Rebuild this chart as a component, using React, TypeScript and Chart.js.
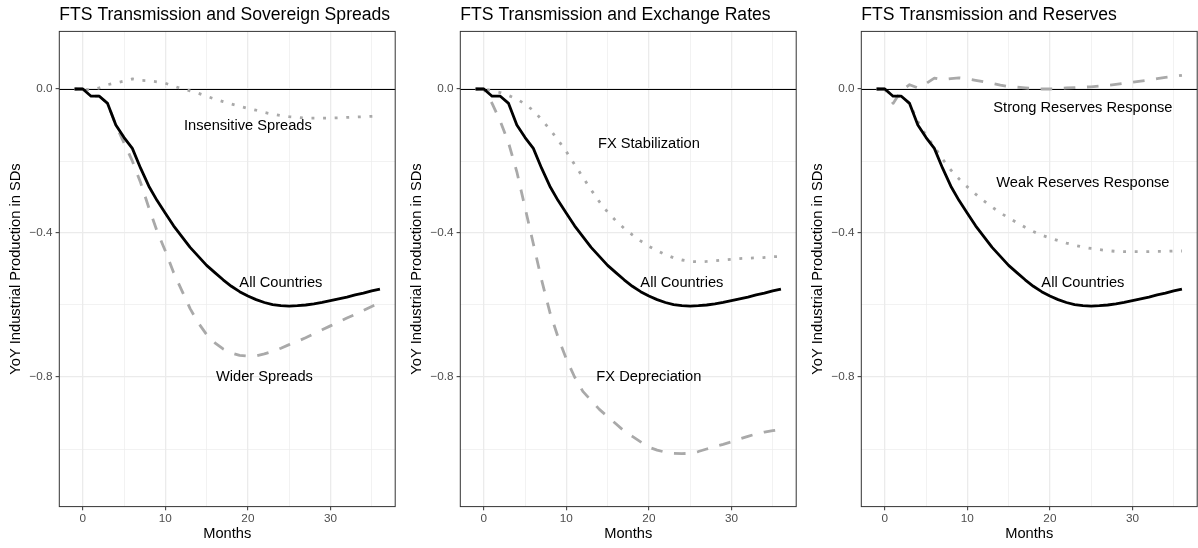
import { useEffect, useRef } from "react";
import { Chart, registerables } from "chart.js";

Chart.register(...registerables);

const FONT = '"Liberation Sans", Arial, Helvetica, sans-serif';

// Horizon in months after the shock
const months = [-1, 0, 1, 2, 3, 4, 5, 6, 7, 8, 9, 10, 11, 12, 13, 14, 15, 16, 17, 18, 19, 20, 21, 22, 23, 24, 25, 26, 27, 28, 29, 30, 31, 32, 33, 34, 35, 36];

// Impulse responses (YoY industrial production, in SDs)
const allCountries = [0, 0, -0.02, -0.02, -0.04, -0.1, -0.135, -0.165, -0.22, -0.27, -0.31, -0.345, -0.38, -0.41, -0.44, -0.465, -0.49, -0.51, -0.53, -0.548, -0.563, -0.575, -0.585, -0.593, -0.599, -0.602, -0.603, -0.602, -0.6, -0.597, -0.593, -0.588, -0.583, -0.578, -0.572, -0.567, -0.561, -0.556];
const widerSpreads = [0, 0, -0.02, -0.02, -0.04, -0.1, -0.15, -0.2, -0.26, -0.33, -0.395, -0.45, -0.51, -0.56, -0.61, -0.65, -0.682, -0.705, -0.722, -0.733, -0.74, -0.742, -0.741, -0.736, -0.729, -0.72, -0.71, -0.701, -0.691, -0.68, -0.669, -0.658, -0.647, -0.636, -0.626, -0.615, -0.604, -0.593];
const insensitiveSpreads = [0, 0, -0.003, 0.003, 0.012, 0.017, 0.022, 0.028, 0.024, 0.023, 0.02, 0.016, 0.008, 0.001, -0.005, -0.012, -0.02, -0.028, -0.035, -0.042, -0.048, -0.054, -0.059, -0.065, -0.07, -0.074, -0.077, -0.079, -0.081, -0.081, -0.081, -0.081, -0.08, -0.079, -0.078, -0.077, -0.076, -0.075];
const fxDepreciation = [0, 0, -0.04, -0.09, -0.15, -0.23, -0.33, -0.43, -0.53, -0.62, -0.69, -0.75, -0.8, -0.84, -0.865, -0.89, -0.91, -0.93, -0.95, -0.965, -0.98, -0.995, -1.003, -1.009, -1.012, -1.013, -1.012, -1.007, -1.0, -0.993, -0.987, -0.98, -0.972, -0.965, -0.958, -0.953, -0.949, -0.946];
const fxStabilization = [0, 0, -0.005, -0.01, -0.018, -0.028, -0.042, -0.06, -0.085, -0.112, -0.142, -0.174, -0.21, -0.245, -0.28, -0.313, -0.342, -0.366, -0.387, -0.405, -0.422, -0.437, -0.449, -0.46, -0.469, -0.475, -0.479, -0.48, -0.479, -0.477, -0.475, -0.473, -0.471, -0.47, -0.469, -0.468, -0.466, -0.465];
const strongReserves = [0, 0, -0.04, -0.005, 0.012, 0.003, 0.015, 0.03, 0.026, 0.029, 0.031, 0.028, 0.024, 0.02, 0.016, 0.011, 0.007, 0.005, 0.003, 0.001, 0, 0, 0.001, 0.003, 0.004, 0.005, 0.006, 0.008, 0.01, 0.013, 0.016, 0.019, 0.022, 0.025, 0.029, 0.032, 0.035, 0.038];
const weakReserves = [0, 0, -0.02, -0.02, -0.04, -0.09, -0.13, -0.16, -0.195, -0.225, -0.25, -0.272, -0.292, -0.311, -0.328, -0.344, -0.358, -0.371, -0.384, -0.396, -0.406, -0.414, -0.421, -0.428, -0.434, -0.439, -0.443, -0.446, -0.449, -0.451, -0.452, -0.452, -0.452, -0.452, -0.451, -0.451, -0.45, -0.45];

// Axis ticks (major ticks carry a label, minor ones only a grid line)
const xTicks = [0, 5, 10, 15, 20, 25, 30, 35];
const xTickLabels = ["0", "", "10", "", "20", "", "30", ""];
const yTicks = [-1.0, -0.8, -0.6, -0.4, -0.2, 0];
const yTickLabels = ["", "\u22120.8", "", "\u22120.4", "", "0.0"];

const X_MIN = -2.85;
const X_MAX = 37.85;
const Y_MIN = -1.16;
const Y_MAX = 0.16;

type LineStyle = "solid" | "dashed" | "dotted";
type Series = { values: number[]; style: LineStyle };
type Note = { text: string; month: number; value: number };
type PanelCfg = { title: string; series: Series[]; notes: Note[] };

const panels: PanelCfg[] = [
  {
    title: "FTS Transmission and Sovereign Spreads",
    series: [
      { values: allCountries, style: "solid" },
      { values: widerSpreads, style: "dashed" },
      { values: insensitiveSpreads, style: "dotted" },
    ],
    notes: [
      { text: "Insensitive Spreads", month: 20, value: -0.104 },
      { text: "All Countries", month: 24, value: -0.54 },
      { text: "Wider Spreads", month: 22, value: -0.8 },
    ],
  },
  {
    title: "FTS Transmission and Exchange Rates",
    series: [
      { values: allCountries, style: "solid" },
      { values: fxDepreciation, style: "dashed" },
      { values: fxStabilization, style: "dotted" },
    ],
    notes: [
      { text: "FX Stabilization", month: 20, value: -0.153 },
      { text: "All Countries", month: 24, value: -0.54 },
      { text: "FX Depreciation", month: 20, value: -0.8 },
    ],
  },
  {
    title: "FTS Transmission and Reserves",
    series: [
      { values: allCountries, style: "solid" },
      { values: strongReserves, style: "dashed" },
      { values: weakReserves, style: "dotted" },
    ],
    notes: [
      { text: "Strong Reserves Response", month: 24, value: -0.054 },
      { text: "Weak Reserves Response", month: 24, value: -0.262 },
      { text: "All Countries", month: 24, value: -0.54 },
    ],
  },
];

const CANVAS_W = 396;
const CANVAS_H = 548;
const PANEL_LEFTS = [0, 401, 802];
const PLOT_LEFT = 59.3;
const PLOT_RIGHT = 395.2;
const PLOT_TOP = 31.4;
const PLOT_BOTTOM = 506.6;

const LINE_W = 2.8;
const GREY = "#a9a9a9";

function dashFor(style: LineStyle): number[] {
  if (style === "dashed") return [11.6, 11.6];
  if (style === "dotted") return [2.9, 8.7];
  return [];
}

function labelFor(ticks: number[], labels: string[], v: number): string {
  const i = ticks.findIndex((t) => Math.abs(t - v) < 1e-9);
  return i >= 0 ? labels[i] : "";
}

const panelDecor = {
  id: "panelDecor",
  beforeDatasetsDraw(chart: any) {
    const { ctx, chartArea, scales } = chart;
    // zero reference line, snapped to the pixel grid so it stays crisp
    const y0 = Math.floor(scales.y.getPixelForValue(0)) + 0.5;
    ctx.save();
    ctx.strokeStyle = "#000";
    ctx.lineWidth = 1;
    ctx.beginPath();
    ctx.moveTo(chartArea.left, y0);
    ctx.lineTo(chartArea.right, y0);
    ctx.stroke();
    ctx.restore();
  },
  afterDatasetsDraw(chart: any, _args: any, opts: any) {
    const { ctx, chartArea, scales } = chart;
    ctx.save();
    ctx.fillStyle = "#000";
    ctx.font = `14.67px ${FONT}`;
    ctx.textAlign = "center";
    ctx.textBaseline = "middle";
    for (const n of opts.notes as Note[]) {
      ctx.fillText(n.text, scales.x.getPixelForValue(n.month), scales.y.getPixelForValue(n.value));
    }
    ctx.strokeStyle = "#333333";
    ctx.lineWidth = 1;
    ctx.strokeRect(chartArea.left, chartArea.top, chartArea.right - chartArea.left, chartArea.bottom - chartArea.top);
    ctx.font = `17.6px ${FONT}`;
    ctx.textAlign = "left";
    ctx.textBaseline = "alphabetic";
    ctx.fillText(opts.title, chartArea.left, 19.5);
    ctx.restore();
  },
};

function Panel({ cfg, left }: { cfg: PanelCfg; left: number }) {
  const ref = useRef<HTMLCanvasElement>(null);

  useEffect(() => {
    const canvas = ref.current;
    if (!canvas) return;
    const datasets = cfg.series.map((s) => ({
      data: months.map((m, i) => ({ x: m, y: s.values[i] })),
      borderColor: s.style === "solid" ? "#000000" : GREY,
      borderWidth: LINE_W,
      borderDash: dashFor(s.style),
      borderCapStyle: "butt",
      borderJoinStyle: "round",
      pointRadius: 0,
      pointHoverRadius: 0,
      tension: 0,
      fill: false,
    }));

    const gridMajorX = (v: number) => labelFor(xTicks, xTickLabels, v) !== "";
    const gridMajorY = (v: number) => labelFor(yTicks, yTickLabels, v) !== "";

    const chart = new Chart(canvas, {
      type: "line",
      data: { datasets: datasets as any },
      plugins: [panelDecor],
      options: {
        responsive: false,
        animation: false,
        devicePixelRatio: 1,
        layout: {
          padding: { top: PLOT_TOP, left: 0, right: CANVAS_W - PLOT_RIGHT, bottom: 0 },
        },
        plugins: {
          legend: { display: false },
          title: { display: false },
          tooltip: { enabled: false },
          panelDecor: { title: cfg.title, notes: cfg.notes },
        } as any,
        scales: {
          x: {
            type: "linear",
            min: X_MIN,
            max: X_MAX,
            afterBuildTicks: (s: any) => {
              s.ticks = xTicks.map((v) => ({ value: v }));
            },
            afterFit: (s: any) => {
              s.height = CANVAS_H - PLOT_BOTTOM;
            },
            border: { display: false },
            grid: {
              color: "#ebebeb",
              lineWidth: (c: any) => (c.tick && gridMajorX(c.tick.value) ? 1.3 : 0.65),
              drawTicks: true,
              tickLength: 3.7,
              tickWidth: 1,
              tickColor: (c: any) => (c.tick && gridMajorX(c.tick.value) ? "#333333" : "rgba(0,0,0,0)"),
            },
            ticks: {
              autoSkip: false,
              maxRotation: 0,
              padding: 1,
              color: "#4d4d4d",
              font: { family: FONT, size: 11.73 },
              callback: (v: any) => labelFor(xTicks, xTickLabels, Number(v)),
            },
            title: {
              display: true,
              text: "Months",
              color: "#000",
              font: { family: FONT, size: 14.67 },
              padding: { top: 0, bottom: 5.2 },
            },
          },
          y: {
            type: "linear",
            min: Y_MIN,
            max: Y_MAX,
            afterBuildTicks: (s: any) => {
              s.ticks = yTicks.map((v) => ({ value: v }));
            },
            afterFit: (s: any) => {
              s.width = PLOT_LEFT;
            },
            border: { display: false },
            grid: {
              color: "#ebebeb",
              lineWidth: (c: any) => (c.tick && gridMajorY(c.tick.value) ? 1.3 : 0.65),
              drawTicks: true,
              tickLength: 3.7,
              tickWidth: 1,
              tickColor: (c: any) => (c.tick && gridMajorY(c.tick.value) ? "#333333" : "rgba(0,0,0,0)"),
            },
            ticks: {
              padding: 3,
              color: "#4d4d4d",
              font: { family: FONT, size: 11.73 },
              callback: (v: any) => labelFor(yTicks, yTickLabels, Number(v)),
            },
            title: {
              display: true,
              text: "YoY Industrial Production in SDs",
              color: "#000",
              font: { family: FONT, size: 14.67 },
              padding: { top: 7, bottom: 0 },
            },
          },
        },
      } as any,
    });
    return () => chart.destroy();
  }, [cfg]);

  return (
    <canvas
      ref={ref}
      width={CANVAS_W}
      height={CANVAS_H}
      style={{ position: "absolute", left, top: 0, width: CANVAS_W, height: CANVAS_H }}
    />
  );
}

export default function App() {
  return (
    <div
      style={{
        position: "absolute",
        left: 0,
        top: 0,
        width: 1198,
        height: 548,
        background: "#ffffff",
        overflow: "hidden",
      }}
    >
      {panels.map((p, i) => (
        <Panel key={i} cfg={p} left={PANEL_LEFTS[i]} />
      ))}
    </div>
  );
}
